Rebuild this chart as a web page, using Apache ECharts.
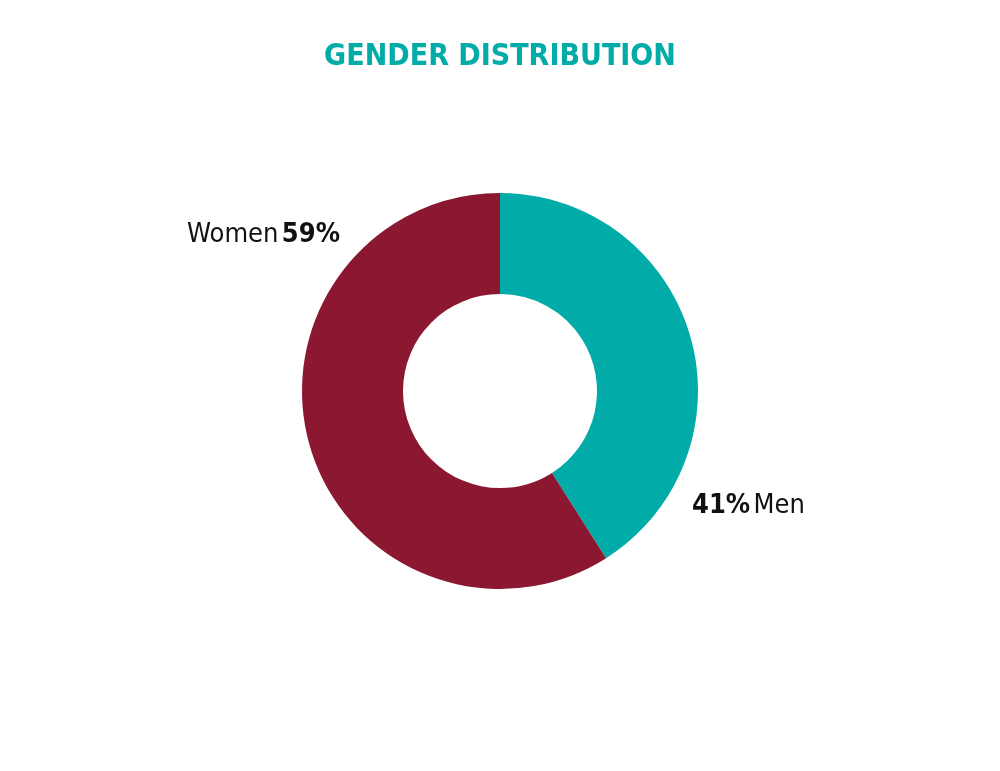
<!DOCTYPE html>
<html><head><meta charset="utf-8">
<script src="https://cdn.jsdelivr.net/npm/echarts@6/dist/echarts.min.js"></script>
<style>html,body{margin:0;padding:0;background:#fff}#c{width:1000px;height:771px}</style>
</head><body><div id="c"></div>
<script>
const categories = ['Men', 'Women'];
const values = [41, 59];
const colors = ['#00ABA8', '#8B1730'];
const titleText = 'GENDER DISTRIBUTION';

const chart = echarts.init(document.getElementById('c'));
const FONT = '"Liberation Sans Narrow", "DejaVu Sans Condensed", sans-serif';
chart.setOption({
  animation: false,
  title: {
    text: titleText, left: 'center', top: 37,
    textStyle: { color: '#00ABA8', fontFamily: FONT, fontWeight: 'bold', fontSize: 30 }
  },
  series: [{
    type: 'pie',
    center: [500, 391],
    radius: [97, 198],
    startAngle: 90,
    clockwise: true,
    silent: true,
    data: categories.map((c, i) => ({ name: c, value: values[i], itemStyle: { color: colors[i] } })),
    labelLine: { show: false },
    label: {
      show: true,
      position: 'outside',
      fontFamily: FONT,
      formatter: p => p.name === 'Men' ? '{b|' + p.value + '%} {n|' + p.name + '}' : '{n|' + p.name + '} {b|' + p.value + '%}',
      rich: {
        n: { fontFamily: FONT, fontSize: 27, color: '#111', fontWeight: 'normal' },
        b: { fontFamily: FONT, fontSize: 27, color: '#111', fontWeight: 'bold' }
      }
    },
    labelLayout: function (params) {
      if (params.dataIndex === 0) return { x: 692, y: 506, align: 'left', verticalAlign: 'middle' };
      return { x: 340, y: 235, align: 'right', verticalAlign: 'middle' };
    }
  }]
});
</script></body></html>
